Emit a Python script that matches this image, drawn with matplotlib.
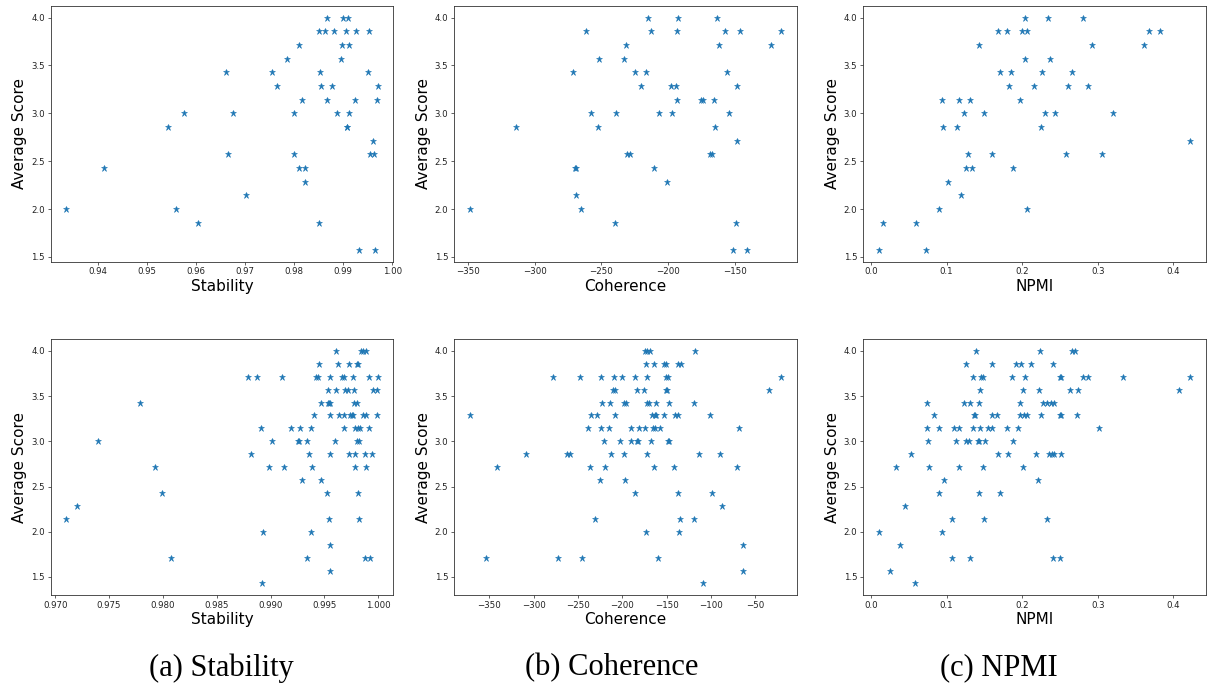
import matplotlib
matplotlib.use("Agg")
import matplotlib.pyplot as plt

# ---------------- data ----------------
# (a) Stability - top row
stab_top_x = [0.93354, 0.94116, 0.95429, 0.95599, 0.95748, 0.96048, 0.96619, 0.96660, 0.96755, 0.97027,
              0.97544, 0.97660, 0.97857, 0.97993, 0.98007, 0.98095, 0.98095, 0.98156, 0.98224, 0.98224,
              0.98503, 0.98517, 0.98524, 0.98544, 0.98633, 0.98667, 0.98667, 0.98782, 0.98816, 0.98871,
              0.98959, 0.98980, 0.99007, 0.99068, 0.99075, 0.99088, 0.99102, 0.99116, 0.99116, 0.99252,
              0.99265, 0.99333, 0.99510, 0.99524, 0.99544, 0.99619, 0.99639, 0.99660, 0.99694, 0.99707]
stab_top_y = [2.0, 2.429, 2.857, 2.0, 3.0, 1.857, 3.429, 2.571, 3.0, 2.143,
              3.429, 3.286, 3.571, 3.0, 2.571, 3.714, 2.429, 3.143, 2.429, 2.286,
              1.857, 3.857, 3.429, 3.286, 3.857, 4.0, 3.143, 3.286, 3.857, 3.0,
              3.571, 3.714, 4.0, 3.857, 2.857, 2.857, 4.0, 3.714, 3.0, 3.143,
              3.857, 1.571, 3.429, 3.857, 2.571, 2.714, 2.571, 1.571, 3.143, 3.286]

# (b) Coherence - top row
coh_top_x = [-348.7, -313.7, -270.9, -269.7, -268.9, -268.9, -265.4, -261.2, -258.0, -252.7,
             -251.4, -239.4, -238.9, -232.7, -231.2, -230.7, -228.2, -224.7, -219.9, -216.7,
             -214.7, -212.7, -210.2, -206.7, -200.4, -197.9, -196.7, -193.7, -193.4, -192.9,
             -192.7, -174.9, -173.7, -168.4, -166.9, -165.7, -164.9, -162.9, -161.4, -157.4,
             -155.7, -154.2, -151.2, -148.9, -148.4, -147.9, -145.7, -140.7, -122.7, -114.9]
coh_top_y = [2.0, 2.857, 3.429, 2.429, 2.429, 2.143, 2.0, 3.857, 3.0, 2.857,
             3.571, 1.857, 3.0, 3.571, 3.714, 2.571, 2.571, 3.429, 3.286, 3.429,
             4.0, 3.857, 2.429, 3.0, 2.286, 3.286, 3.0, 3.286, 3.143, 3.857,
             4.0, 3.143, 3.143, 2.571, 2.571, 3.143, 2.857, 4.0, 3.714, 3.857,
             3.429, 3.0, 1.571, 1.857, 3.286, 2.714, 3.857, 1.571, 3.714, 3.857]

# (c) NPMI - top row
npmi_top_x = [0.0101, 0.0159, 0.0595, 0.0727, 0.0907, 0.0943, 0.0952, 0.1026, 0.1137, 0.1163,
              0.1189, 0.1229, 0.1260, 0.1286, 0.1317, 0.1335, 0.1436, 0.1493, 0.1604, 0.1678,
              0.1705, 0.1802, 0.1824, 0.1859, 0.1877, 0.1969, 0.2004, 0.2035, 0.2040, 0.2062,
              0.2070, 0.2154, 0.2251, 0.2264, 0.2300, 0.2348, 0.2374, 0.2436, 0.2581, 0.2604,
              0.2665, 0.2806, 0.2868, 0.2930, 0.3057, 0.3198, 0.3608, 0.3678, 0.3824, 0.4220]
npmi_top_y = [1.571, 1.857, 1.857, 1.571, 2.0, 3.143, 2.857, 2.286, 2.857, 3.143,
              2.143, 3.0, 2.429, 2.571, 3.143, 2.429, 3.714, 3.0, 2.571, 3.857,
              3.429, 3.857, 3.286, 3.429, 2.429, 3.143, 3.857, 4.0, 3.571, 2.0,
              3.857, 3.286, 2.857, 3.429, 3.0, 4.0, 3.571, 3.0, 2.571, 3.286,
              3.429, 4.0, 3.286, 3.714, 2.571, 3.0, 3.714, 3.857, 3.857, 2.714]

# (a) Stability - bottom row
stab_bot_x = [0.99610, 0.99839, 0.99861, 0.99883,
              0.99449, 0.99622, 0.99728, 0.99805, 0.99815,
              0.98792, 0.98875, 0.99108, 0.99418, 0.99436, 0.99554, 0.99666, 0.99684, 0.99765, 0.99911, 0.99995,
              0.99533, 0.99610, 0.99691, 0.99715, 0.99771, 0.99948, 0.99988,
              0.97784, 0.99467, 0.99529, 0.99542, 0.99554, 0.99774, 0.99802,
              0.99402, 0.99551, 0.99635, 0.99684, 0.99740, 0.99753, 0.99765, 0.99855, 0.99886, 0.99985,
              0.98909, 0.99192, 0.99269, 0.99371, 0.99681, 0.99787, 0.99808, 0.99833, 0.99914,
              0.97394, 0.99012, 0.99257, 0.99263, 0.99334, 0.99598, 0.99805, 0.99818,
              0.98820, 0.99353, 0.99554, 0.99725, 0.99781, 0.99880, 0.99942,
              0.97924, 0.98981, 0.99120, 0.99381, 0.99787, 0.99886,
              0.99294, 0.99471,
              0.97989, 0.99523, 0.99815,
              0.97198,
              0.97102, 0.99542, 0.99818,
              0.98928, 0.99378,
              0.99551,
              0.98079, 0.99340, 0.99880, 0.99923,
              0.99554,
              0.98916]
stab_bot_y = [4.0, 4.0, 4.0, 4.0,
              3.857, 3.857, 3.857, 3.857, 3.857,
              3.714, 3.714, 3.714, 3.714, 3.714, 3.714, 3.714, 3.714, 3.714, 3.714, 3.714,
              3.571, 3.571, 3.571, 3.571, 3.571, 3.571, 3.571,
              3.429, 3.429, 3.429, 3.429, 3.429, 3.429, 3.429,
              3.286, 3.286, 3.286, 3.286, 3.286, 3.286, 3.286, 3.286, 3.286, 3.286,
              3.143, 3.143, 3.143, 3.143, 3.143, 3.143, 3.143, 3.143, 3.143,
              3.0, 3.0, 3.0, 3.0, 3.0, 3.0, 3.0, 3.0,
              2.857, 2.857, 2.857, 2.857, 2.857, 2.857, 2.857,
              2.714, 2.714, 2.714, 2.714, 2.714, 2.714,
              2.571, 2.571,
              2.429, 2.429, 2.429,
              2.286,
              2.143, 2.143, 2.143,
              2.0, 2.0,
              1.857,
              1.714, 1.714, 1.714, 1.714,
              1.571,
              1.429]

# (b) Coherence - bottom row
coh_bot_x = [-174.5, -171.9, -168.9, -118.3,
             -173.8, -164.3, -152.6, -151.1, -137.5, -133.8,
             -277.9, -247.4, -224.0, -209.6, -200.2, -185.5, -172.6, -151.1, -148.8, -20.5,
             -210.4, -208.1, -183.2, -176.0, -151.1, -149.6, -34.1,
             -222.4, -213.4, -198.3, -195.3, -172.6, -169.6, -162.4, -147.7, -119.0,
             -372.3, -235.6, -228.9, -208.1, -166.2, -163.2, -162.1, -152.6, -140.9, -136.8, -100.9,
             -238.7, -224.0, -215.3, -190.0, -181.7, -174.9, -165.1, -163.2, -157.2, -68.1,
             -220.6, -202.1, -190.0, -183.2, -182.4, -168.1, -148.5, -147.7,
             -308.1, -262.1, -258.7, -213.0, -197.9, -172.3, -113.4, -90.0,
             -341.7, -236.4, -219.4, -164.3, -141.7, -70.7,
             -225.5, -196.4,
             -186.2, -137.5, -98.7,
             -87.0,
             -230.7, -134.5, -119.0,
             -173.8, -136.0,
             -63.6,
             -353.4, -272.6, -245.1, -159.8,
             -63.6,
             -108.5]
coh_bot_y = [4.0, 4.0, 4.0, 4.0,
             3.857, 3.857, 3.857, 3.857, 3.857, 3.857,
             3.714, 3.714, 3.714, 3.714, 3.714, 3.714, 3.714, 3.714, 3.714, 3.714,
             3.571, 3.571, 3.571, 3.571, 3.571, 3.571, 3.571,
             3.429, 3.429, 3.429, 3.429, 3.429, 3.429, 3.429, 3.429, 3.429,
             3.286, 3.286, 3.286, 3.286, 3.286, 3.286, 3.286, 3.286, 3.286, 3.286, 3.286,
             3.143, 3.143, 3.143, 3.143, 3.143, 3.143, 3.143, 3.143, 3.143, 3.143,
             3.0, 3.0, 3.0, 3.0, 3.0, 3.0, 3.0, 3.0,
             2.857, 2.857, 2.857, 2.857, 2.857, 2.857, 2.857, 2.857,
             2.714, 2.714, 2.714, 2.714, 2.714, 2.714,
             2.571, 2.571,
             2.429, 2.429, 2.429,
             2.286,
             2.143, 2.143, 2.143,
             2.0, 2.0,
             1.857,
             1.714, 1.714, 1.714, 1.714,
             1.571,
             1.429]

# (c) NPMI - bottom row
npmi_bot_x = [0.1392, 0.2233, 0.2656, 0.2696,
              0.1264, 0.1595, 0.1925, 0.1991, 0.2115, 0.2410,
              0.1352, 0.1458, 0.1480, 0.1868, 0.2040, 0.2502, 0.2515, 0.2811, 0.2868, 0.3330, 0.4220,
              0.1445, 0.2018, 0.2225, 0.2639, 0.2736, 0.4075,
              0.0744, 0.1229, 0.1304, 0.1436, 0.1969, 0.2278, 0.2326, 0.2379, 0.2427,
              0.0837, 0.1361, 0.1383, 0.1604, 0.1670, 0.1969, 0.2031, 0.2062, 0.2247, 0.2507, 0.2520, 0.2727,
              0.0744, 0.0899, 0.1101, 0.1167, 0.1348, 0.1449, 0.1555, 0.1604, 0.1802, 0.1947, 0.3013,
              0.0753, 0.1119, 0.1256, 0.1295, 0.1410, 0.1432, 0.1511, 0.1885,
              0.0524, 0.1678, 0.1819, 0.2185, 0.2352, 0.2392, 0.2427, 0.2515,
              0.0330, 0.0762, 0.1163, 0.1476, 0.2013,
              0.0960, 0.2207,
              0.0899, 0.1436, 0.1714,
              0.0449,
              0.1070, 0.1493, 0.2335,
              0.0101, 0.0934,
              0.0388,
              0.1079, 0.1317, 0.2410, 0.2502,
              0.0251,
              0.0586]
npmi_bot_y = [4.0, 4.0, 4.0, 4.0,
              3.857, 3.857, 3.857, 3.857, 3.857, 3.857,
              3.714, 3.714, 3.714, 3.714, 3.714, 3.714, 3.714, 3.714, 3.714, 3.714, 3.714,
              3.571, 3.571, 3.571, 3.571, 3.571, 3.571,
              3.429, 3.429, 3.429, 3.429, 3.429, 3.429, 3.429, 3.429, 3.429,
              3.286, 3.286, 3.286, 3.286, 3.286, 3.286, 3.286, 3.286, 3.286, 3.286, 3.286, 3.286,
              3.143, 3.143, 3.143, 3.143, 3.143, 3.143, 3.143, 3.143, 3.143, 3.143, 3.143,
              3.0, 3.0, 3.0, 3.0, 3.0, 3.0, 3.0, 3.0,
              2.857, 2.857, 2.857, 2.857, 2.857, 2.857, 2.857, 2.857,
              2.714, 2.714, 2.714, 2.714, 2.714,
              2.571, 2.571,
              2.429, 2.429, 2.429,
              2.286,
              2.143, 2.143, 2.143,
              2.0, 2.0,
              1.857,
              1.714, 1.714, 1.714, 1.714,
              1.571,
              1.429]

# tick labels
y_ticks = [1.5, 2.0, 2.5, 3.0, 3.5, 4.0]
stab_top_ticks = [0.94, 0.95, 0.96, 0.97, 0.98, 0.99, 1.00]
stab_bot_ticks = [0.970, 0.975, 0.980, 0.985, 0.990, 0.995, 1.000]
coh_top_ticks = [-350, -300, -250, -200, -150]
coh_bot_ticks = [-350, -300, -250, -200, -150, -100, -50]
npmi_ticks = [0.0, 0.1, 0.2, 0.3, 0.4]

x_labels = ["Stability", "Coherence", "NPMI"]
captions = ["(a) Stability", "(b) Coherence", "(c) NPMI"]

# ---------------- figure ----------------
W, H = 1207, 685
fig = plt.figure(figsize=(W / 100, H / 100), dpi=100)

col_left = [50.7, 454.0, 863.0]
col_width = [342.6, 343.0, 342.5]
row_top = [6.0, 339.3]
ax_h = 255.7

panels = [
    [(stab_top_x, stab_top_y, stab_top_ticks, "{:.2f}"),
     (coh_top_x, coh_top_y, coh_top_ticks, "{:.0f}"),
     (npmi_top_x, npmi_top_y, npmi_ticks, "{:.1f}")],
    [(stab_bot_x, stab_bot_y, stab_bot_ticks, "{:.3f}"),
     (coh_bot_x, coh_bot_y, coh_bot_ticks, "{:.0f}"),
     (npmi_bot_x, npmi_bot_y, npmi_ticks, "{:.1f}")],
]

for r in range(2):
    for c in range(3):
        xs, ys, xt, fmt = panels[r][c]
        ax = fig.add_axes([col_left[c] / W, 1 - (row_top[r] + ax_h) / H,
                           col_width[c] / W, ax_h / H])
        ax.plot(xs, ys, linestyle="none", marker="*", markersize=5.0,
                color="#1f77b4", markeredgewidth=0.4)
        ax.set_xticks(xt)
        ax.set_xticklabels([fmt.format(v).replace("-", "\u2212") for v in xt])
        ax.set_yticks(y_ticks)
        ax.set_yticklabels(["{:.1f}".format(v) for v in y_ticks])
        ax.tick_params(labelsize=6.2, length=2.1, width=0.5, pad=2.0,
                       colors="#222222")
        for sp in ax.spines.values():
            sp.set_linewidth(0.6)
            sp.set_color("#333333")
        ax.set_xlabel(x_labels[c], fontsize=11, labelpad=2.0)
        ax.set_ylabel("Average Score", fontsize=11, labelpad=3.0)

cap_x = [221.5, 611.5, 998.5]
for c in range(3):
    fig.text(cap_x[c] / W, 1 - 668 / H, captions[c], ha="center", va="center",
             fontsize=22, family="Liberation Serif")

fig.savefig("out.png", dpi=100)
